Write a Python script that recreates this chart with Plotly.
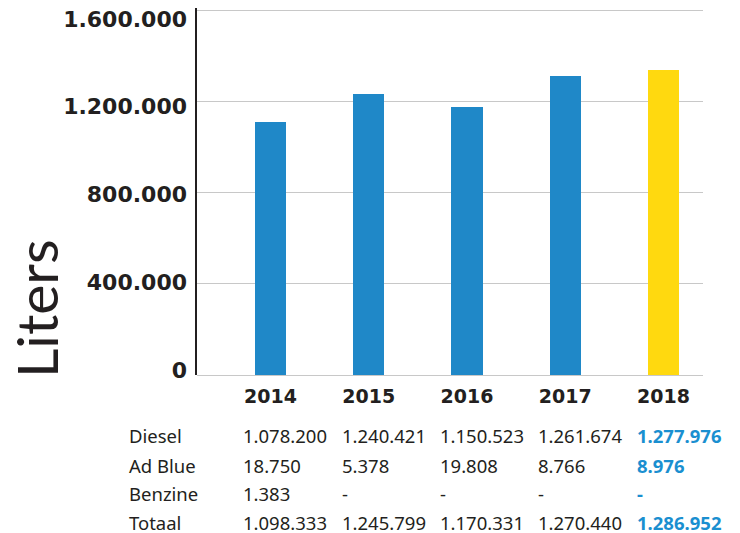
import plotly.graph_objects as go

years = ["2014", "2015", "2016", "2017", "2018"]
bar_values = [1109000, 1232000, 1175000, 1311000, 1337000]
bar_colors = ["#1f88c8", "#1f88c8", "#1f88c8", "#1f88c8", "#ffd90f"]

y_tickvals = [0, 400000, 800000, 1200000, 1600000]
y_ticktext = ["0", "400.000", "800.000", "1.200.000", "1.600.000"]

row_labels = ["Diesel", "Ad Blue", "Benzine", "Totaal"]
diesel = ["1.078.200", "1.240.421", "1.150.523", "1.261.674", "1.277.976"]
adblue = ["18.750", "5.378", "19.808", "8.766", "8.976"]
benzine = ["1.383", "-", "-", "-", "-"]
totaal = ["1.098.333", "1.245.799", "1.170.331", "1.270.440", "1.286.952"]
table_rows = [diesel, adblue, benzine, totaal]

DARK = "#231f20"
BLUE_TXT = "#1a8fd0"

fig = go.Figure()
fig.add_trace(go.Bar(
    x=years, y=bar_values, marker=dict(color=bar_colors, line=dict(width=0)),
    width=0.316, hoverinfo="skip",
))
# carrier for the label axis (no visible marks)
fig.add_trace(go.Scatter(
    x=years, y=[None] * len(years), yaxis="y2", mode="markers",
    showlegend=False, hoverinfo="skip",
))

annotations = []
annotations.append(dict(
    text="Liters", xref="paper", yref="paper", x=-0.318, y=0.18,
    xanchor="center", yanchor="middle", textangle=-90, showarrow=False,
    font=dict(family="Lato", size=57, color=DARK),
))
row_shifts = [-60, -90, -118, -147]
for r, (lab, vals) in enumerate(zip(row_labels, table_rows)):
    annotations.append(dict(
        text=lab, xref="paper", yref="paper", x=-0.138, y=0,
        xanchor="left", yanchor="middle", yshift=row_shifts[r], showarrow=False,
        font=dict(family="Noto Sans", size=18.5, color=DARK),
    ))
    for c, v in enumerate(vals):
        last = c == len(vals) - 1
        annotations.append(dict(
            text=f"<b>{v}</b>" if last else v, xref="x", yref="paper", x=c, y=0,
            xanchor="left", yanchor="middle", xshift=-29, yshift=row_shifts[r],
            showarrow=False,
            font=dict(family="Noto Sans", size=18.5, color=BLUE_TXT if last else DARK),
        ))

fig.update_layout(
    width=732, height=525,
    margin=dict(l=189, r=37, t=0, b=158),
    paper_bgcolor="white", plot_bgcolor="white",
    showlegend=False, bargap=0,
    annotations=annotations,
    font=dict(family="DejaVu Sans", color=DARK),
    yaxis2=dict(
        overlaying="y", side="left", range=[-22792, 1650140],
        tickvals=y_tickvals, ticktext=y_ticktext,
        showgrid=False, zeroline=False, showline=False, ticks="",
        ticklabelstandoff=9, ticklabeloverflow="allow",
        tickfont=dict(family="DejaVu Sans", size=22, color=DARK, weight="bold"),
    ),
)
fig.update_xaxes(
    type="category", range=[-0.748, 4.402], showgrid=False, showline=False,
    zeroline=False, ticks="", ticklabelstandoff=8,
    tickfont=dict(family="DejaVu Sans", size=19, color=DARK, weight="bold"),
)
fig.layout.yaxis.update(
    range=[0, 1608760], tickvals=y_tickvals, showticklabels=False,
    showgrid=True, gridcolor="#c8c8c8", gridwidth=1,
    zeroline=True, zerolinecolor="#c8c8c8", zerolinewidth=1,
    showline=True, linecolor=DARK, linewidth=2, ticks="",
)

fig.write_html("out.html")
